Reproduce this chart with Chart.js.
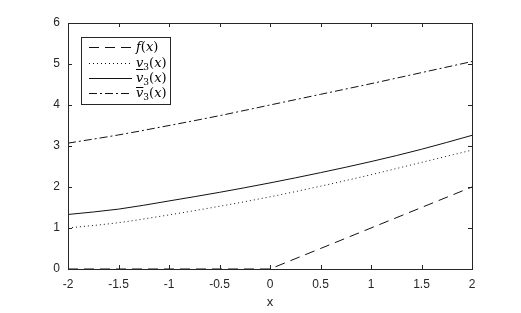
<!DOCTYPE html>
<html>
<head>
<meta charset="utf-8">
<script src="https://cdn.jsdelivr.net/npm/chart.js@4.4.1/dist/chart.umd.min.js"></script>
<style>
    html, body { margin: 0; padding: 0; background: #fff; }
    #wrap { position: relative; width: 521px; height: 313px; }
</style>
</head>
<body>
<div id="wrap"><canvas id="chart" width="521" height="313"></canvas></div>
<script>
// data
var xValues = [-2, -1.5, -1, -0.5, 0, 0.5, 1, 1.5, 2];
var fValues = [0, 0, 0, 0, 0, 0.5, 1, 1.5, 2];
var vLowerValues = [1.0, 1.13, 1.32, 1.53, 1.76, 2.02, 2.30, 2.60, 2.90];
var vValues = [1.33, 1.46, 1.66, 1.87, 2.10, 2.35, 2.62, 2.92, 3.26];
var vUpperValues = [3.07, 3.27, 3.50, 3.74, 4.00, 4.26, 4.52, 4.79, 5.06];
var xTicks = [-2, -1.5, -1, -0.5, 0, 0.5, 1, 1.5, 2];
var yTicks = [0, 1, 2, 3, 4, 5, 6];

var axisColor = '#262626';
var lineColor = '#111';

var toPoints = function(ys) {
    return xValues.map(function(x, i) { return {x: x, y: ys[i]}; });
};

// box + inward ticks on all four sides
var boxPlugin = {
    id: 'boxTicks',
    afterDatasetsDraw: function(chart) {
        var ctx = chart.ctx;
        var a = chart.chartArea;
        var xs = chart.scales.x, ys = chart.scales.y;
        ctx.save();
        ctx.strokeStyle = axisColor;
        ctx.lineWidth = 1;
        ctx.beginPath();
        xTicks.forEach(function(v) {
            var px = Math.round(xs.getPixelForValue(v)) + 0.5;
            ctx.moveTo(px, a.bottom); ctx.lineTo(px, a.bottom - 4);
            ctx.moveTo(px, a.top); ctx.lineTo(px, a.top + 4);
        });
        yTicks.forEach(function(v) {
            var py = Math.round(ys.getPixelForValue(v)) + 0.5;
            ctx.moveTo(a.left, py); ctx.lineTo(a.left + 4, py);
            ctx.moveTo(a.right, py); ctx.lineTo(a.right - 4, py);
        });
        ctx.stroke();
        ctx.strokeRect(Math.round(a.left) + 0.5, Math.round(a.top) + 0.5,
            Math.round(a.right - a.left), Math.round(a.bottom - a.top));
        ctx.restore();
    }
};

// legend with math-style labels
var legendPlugin = {
    id: 'mathLegend',
    afterDraw: function(chart) {
        var ctx = chart.ctx;
        var bx = 81.5, by = 37.5, bw = 89, bh = 67;
        ctx.save();
        ctx.fillStyle = '#fff';
        ctx.fillRect(bx, by, bw, bh);
        ctx.strokeStyle = axisColor;
        ctx.lineWidth = 1;
        ctx.strokeRect(bx, by, bw, bh);

        var rows = [
            {dash: [10, 6], name: 'f', bar: ''},
            {dash: [1, 3], name: 'v', bar: 'under'},
            {dash: [], name: 'v', bar: ''},
            {dash: [8, 3, 2, 3], name: 'v', bar: 'over'}
        ];
        var rowY = [47, 63, 78, 93];
        rows.forEach(function(r, i) {
            var y = rowY[i] + 0.5;
            ctx.strokeStyle = lineColor;
            ctx.setLineDash(r.dash);
            ctx.beginPath();
            ctx.moveTo(89, y); ctx.lineTo(132, y);
            ctx.stroke();
            ctx.setLineDash([]);

            var x = 136;
            var base = rowY[i] + 4;
            ctx.fillStyle = '#000';
            ctx.textBaseline = 'alphabetic';
            ctx.font = 'italic 13px "DejaVu Serif"';
            ctx.fillText(r.name, x, base);
            var nw = ctx.measureText(r.name).width;
            if (r.bar === 'under') {
                ctx.fillRect(x, base + 2, nw, 1);
            } else if (r.bar === 'over') {
                ctx.fillRect(x, base - 10, nw, 1);
            }
            x += nw;
            if (r.name === 'v') {
                ctx.font = '9px "DejaVu Serif"';
                ctx.fillText('3', x, base + 3);
                x += ctx.measureText('3').width;
            }
            ctx.font = '13px "DejaVu Serif"';
            ctx.fillText('(', x, base);
            x += ctx.measureText('(').width;
            ctx.font = 'italic 13px "DejaVu Serif"';
            ctx.fillText('x', x, base);
            x += ctx.measureText('x').width;
            ctx.font = '13px "DejaVu Serif"';
            ctx.fillText(')', x, base);
        });
        ctx.restore();
    }
};

var lineSet = function(label, ys, dash, smooth) {
    return {
        label: label,
        data: toPoints(ys),
        borderColor: lineColor,
        borderWidth: 1,
        borderDash: dash,
        pointRadius: 0,
        fill: false,
        tension: smooth ? 0.4 : 0,
        cubicInterpolationMode: smooth ? 'monotone' : 'default'
    };
};

new Chart(document.getElementById('chart'), {
    type: 'line',
    data: {
        datasets: [
            lineSet('f(x)', fValues, [10, 6], false),
            lineSet('v3 lower', vLowerValues, [1, 3], true),
            lineSet('v3', vValues, [], true),
            lineSet('v3 upper', vUpperValues, [8, 3, 2, 3], true)
        ]
    },
    options: {
        responsive: false,
        animation: false,
        layout: { padding: { top: 23, right: 49, left: 0, bottom: 0 } },
        plugins: {
            legend: { display: false },
            tooltip: { enabled: false }
        },
        scales: {
            x: {
                type: 'linear',
                min: -2,
                max: 2,
                grid: { display: false, drawTicks: false },
                border: { display: false },
                afterBuildTicks: function(scale) {
                    scale.ticks = xTicks.map(function(v) { return {value: v}; });
                },
                afterFit: function(scale) { scale.height = 44; },
                ticks: {
                    padding: 8,
                    color: axisColor,
                    font: { family: '"Liberation Sans", Arial, sans-serif', size: 12 },
                    maxRotation: 0,
                    callback: function(v) { return String(v); }
                },
                title: {
                    display: true,
                    text: 'x',
                    color: axisColor,
                    padding: { top: 0, bottom: 3 },
                    font: { family: '"Liberation Sans", Arial, sans-serif', size: 13 }
                }
            },
            y: {
                min: 0,
                max: 6,
                grid: { display: false, drawTicks: false },
                border: { display: false },
                afterBuildTicks: function(scale) {
                    scale.ticks = yTicks.map(function(v) { return {value: v}; });
                },
                afterFit: function(scale) { scale.width = 68; },
                ticks: {
                    padding: 8,
                    color: axisColor,
                    font: { family: '"Liberation Sans", Arial, sans-serif', size: 12 },
                    callback: function(v) { return String(v); }
                }
            }
        }
    },
    plugins: [boxPlugin, legendPlugin]
});
</script>
</body>
</html>
